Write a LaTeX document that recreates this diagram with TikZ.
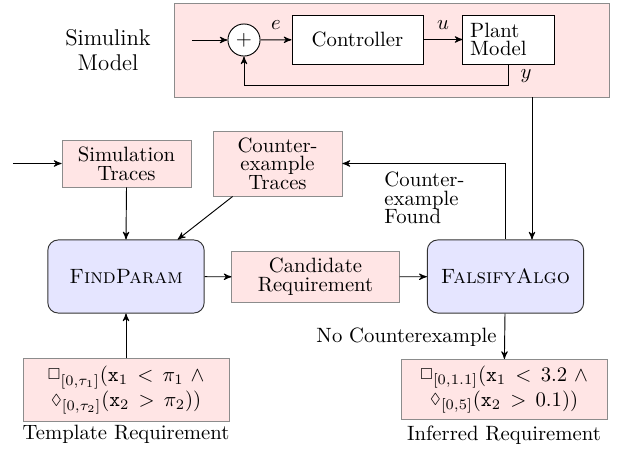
\documentclass[tikz,border=0pt]{standalone}
\usepackage{amssymb, amsmath}
\usepackage{tikz}
\usetikzlibrary{trees,automata,arrows,shapes}
\usetikzlibrary{calc}

\begin{document}
\begin{tikzpicture}[->, >=stealth', x=0.483pt, y=-0.483pt, line width=0.45pt, font=\fontsize{10}{9}\selectfont,
pink node/.style={draw=black!45, fill=red!10, align=center, inner sep=0pt},
algo node/.style={draw=black!80, fill=blue!10, rounded corners=5pt, minimum width=75.5pt, minimum height=35.3pt, inner sep=0pt},
white node/.style={draw, fill=white, minimum height=23.7pt, inner sep=0pt},
label node/.style={align=left, inner sep=0pt}]
\useasboundingbox (0,0) rectangle (623,450);
\node[pink node, minimum width=210.1pt, minimum height=45.4pt] (model) at (391.5,50) {};
\node[align=center, font=\fontsize{11}{12}\selectfont] (simlbl) at (108,50) {Simulink\\Model};
\node[circle, draw, fill=white, minimum size=15.5pt, inner sep=0pt] (sum) at (244,40) {$+$};
\node[white node, minimum width=63.3pt] (ctrl) at (357.5,39.5) {Controller};
\node[white node, text width=37pt, inner xsep=3.5pt, align=left] (plant) at (508.5,39.5) {Plant\\Model};
\node (e) at (276,25) {$e$};
\node (u) at (443,25) {$u$};
\node (y) at (526,76) {$y$};
\coordinate (in) at (192,40);
\coordinate (fb) at (244,85);
\coordinate (tap) at (532,97);
\coordinate (src) at (13,163.5);
\node[pink node, minimum width=62.3pt, minimum height=22.7pt] (simtr) at (126.5,163.5) {Simulation\\Traces};
\node[pink node, minimum width=62.3pt, minimum height=31.4pt] (cetr) at (277.5,163.5) {Counter-\\example\\Traces};
\node[algo node] (findp) at (126,276.5) {\textsc{FindParam}};
\node[pink node, minimum width=80.7pt, minimum height=24.2pt] (cand) at (315.5,277) {Candidate\\Requirement};
\node[algo node] (falsify) at (505.5,276.5) {\textsc{FalsifyAlgo}};
\node[label node, anchor=west] (found) at (384,198) {Counter-\\example\\Found};
\node[anchor=east, inner sep=0pt] (nocex) at (497,337) {No Counterexample};
\node[pink node, minimum width=99.5pt, minimum height=30pt] (tmpl) at (126,390) {$\raisebox{1pt}{$\scriptstyle\Box$}_{[0,\tau_1]}(\mathtt{x}_1 \,<\, \pi_1\ \wedge$\\$\raisebox{1pt}{$\scriptstyle\Diamond$}_{[0,\tau_2]}(\mathtt{x}_2 \,>\, \pi_2))$};
\node[pink node, minimum width=99.5pt, minimum height=29pt] (infr) at (504,389.5) {$\raisebox{1pt}{$\scriptstyle\Box$}_{[0,1.1]}(\mathtt{x}_1 \,<\, 3.2\ \wedge$\\$\raisebox{1pt}{$\scriptstyle\Diamond$}_{[0,5]}(\mathtt{x}_2 \,>\, 0.1))$};
\node (tmpllbl) at (126,434) {Template Requirement};
\node (infrlbl) at (504,435) {Inferred Requirement};
\path
(in) edge (sum)
(sum) edge (ctrl)
(ctrl) edge (plant)
(src) edge (simtr)
(simtr.south) edge (findp.north)
([xshift=9.7pt]cetr.south west) edge ([xshift=-13pt]findp.north east)
(findp) edge (cand)
(cand) edge (falsify)
(tmpl) edge (findp)
(falsify) edge (infr);
\draw (plant.south) |- (fb) -- (sum.south);
\draw (tap) -- (tap |- falsify.north);
\draw (falsify.north) |- (cetr.east);
\end{tikzpicture}
\end{document}
